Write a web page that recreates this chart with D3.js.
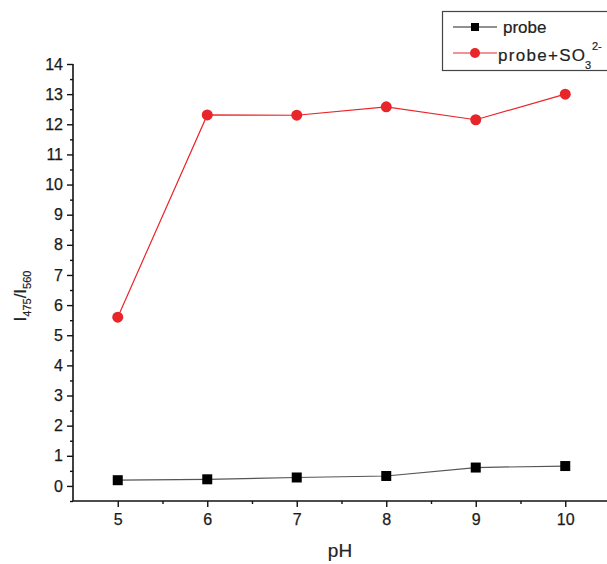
<!DOCTYPE html>
<html><head><meta charset="utf-8">
<script src="https://cdn.jsdelivr.net/npm/d3@7"></script>
<style>body{margin:0;background:#fff}svg{display:block}text{font-family:Arial,"Liberation Sans",sans-serif;fill:#222}</style>
</head><body><svg id="c" width="607" height="564"></svg>
<script>
const pH = [5, 6, 7, 8, 9, 10];
const probe = [0.19, 0.22, 0.28, 0.33, 0.61, 0.66];
const probeSO3 = [5.6, 12.31, 12.30, 12.58, 12.15, 13.0];
const xTicks = [5, 6, 7, 8, 9, 10];
const yTicks = d3.range(0, 15, 1);

const svg = d3.select("#c");
const x = d3.scaleLinear().domain([4.5, 10.5]).range([73, 610]);
const y = d3.scaleLinear().domain([-0.5, 14]).range([501, 64]);

// y axis
const yAxis = svg.append("g").attr("transform", "translate(73,0)")
  .call(d3.axisLeft(y).tickValues(yTicks).tickSize(6).tickPadding(4).tickFormat(d3.format("d")));
yAxis.select(".domain").remove();
svg.append("g").attr("transform", "translate(73,0)")
  .call(d3.axisLeft(y).tickValues(d3.range(0.5, 14, 1).concat([-0.5])).tickSize(3).tickFormat(""))
  .select(".domain").remove();
svg.append("line").attr("x1", 73).attr("x2", 73).attr("y1", y(14)).attr("y2", y(-0.5)).attr("stroke", "#111").attr("stroke-width", 1.6);

// x axis
const xAxis = svg.append("g").attr("transform", "translate(0,501)")
  .call(d3.axisBottom(x).tickValues(xTicks).tickSize(6).tickPadding(7).tickFormat(d3.format("d")));
xAxis.select(".domain").remove();
svg.append("g").attr("transform", "translate(0,501)")
  .call(d3.axisBottom(x).tickValues(d3.range(5.5, 10.5, 1)).tickSize(3).tickFormat(""))
  .select(".domain").remove();
svg.append("line").attr("x1", 73).attr("x2", 607).attr("y1", 501).attr("y2", 501).attr("stroke", "#111").attr("stroke-width", 1.6);

svg.selectAll(".tick line").attr("stroke", "#111").attr("stroke-width", 1.4);
svg.selectAll(".tick text").attr("font-size", 16).style("fill", "#1a1a1a").style("stroke", "#1a1a1a").style("stroke-width", 0.25);

// labels
svg.append("text").attr("x", 340).attr("y", 557).attr("text-anchor", "middle").attr("font-size", 19).style("stroke", "#222").style("stroke-width", 0.2).text("pH");
const yl = svg.append("text").attr("transform", "translate(26,296) rotate(-90)").attr("text-anchor", "middle").attr("font-size", 17).style("stroke", "#222").style("stroke-width", 0.2);
yl.append("tspan").text("I");
yl.append("tspan").attr("font-size", 11).attr("dy", 5).text("475");
yl.append("tspan").attr("dy", -5).text("/I");
yl.append("tspan").attr("font-size", 11).attr("dy", 5).text("560");

const red = "#e8262a";
const line = d3.line().x((d, i) => x(pH[i])).y(d => y(d));
svg.append("path").datum(probe).attr("d", line).attr("fill", "none").attr("stroke", "#555").attr("stroke-width", 1.2);
svg.append("path").datum(probeSO3).attr("d", line).attr("fill", "none").attr("stroke", red).attr("stroke-width", 1.2);
svg.selectAll(".sq").data(probe).enter().append("rect")
  .attr("x", (d, i) => x(pH[i]) - 5).attr("y", d => y(d) - 5).attr("width", 10).attr("height", 10).attr("fill", "#000");
svg.selectAll(".ci").data(probeSO3).enter().append("circle")
  .attr("cx", (d, i) => x(pH[i])).attr("cy", d => y(d)).attr("r", 5.5).attr("fill", red);

// legend
const lg = svg.append("g");
lg.append("rect").attr("x", 442.5).attr("y", 11.5).attr("width", 180).attr("height", 59).attr("fill", "#fff").attr("stroke", "#444").attr("stroke-width", 1.2);
lg.append("line").attr("x1", 453).attr("x2", 497).attr("y1", 27).attr("y2", 27).attr("stroke", "#222").attr("stroke-width", 1.2);
lg.append("rect").attr("x", 471).attr("y", 23).attr("width", 8).attr("height", 8).attr("fill", "#000");
lg.append("text").attr("x", 503).attr("y", 33).attr("font-size", 17).style("stroke", "#222").style("stroke-width", 0.2).text("probe");
lg.append("line").attr("x1", 453).attr("x2", 497).attr("y1", 53).attr("y2", 53).attr("stroke", red).attr("stroke-width", 1.2);
lg.append("circle").attr("cx", 475).attr("cy", 53).attr("r", 5).attr("fill", red);
const t2 = lg.append("text").attr("y", 61).attr("font-size", 17).style("stroke", "#222").style("stroke-width", 0.2);
t2.append("tspan").attr("x", 498).attr("textLength", 87).text("probe+SO");
t2.append("tspan").attr("x", 585).attr("font-size", 11).attr("y", 69).text("3");
t2.append("tspan").attr("x", 592).attr("font-size", 11).attr("y", 50).text("2-");
</script></body></html>
